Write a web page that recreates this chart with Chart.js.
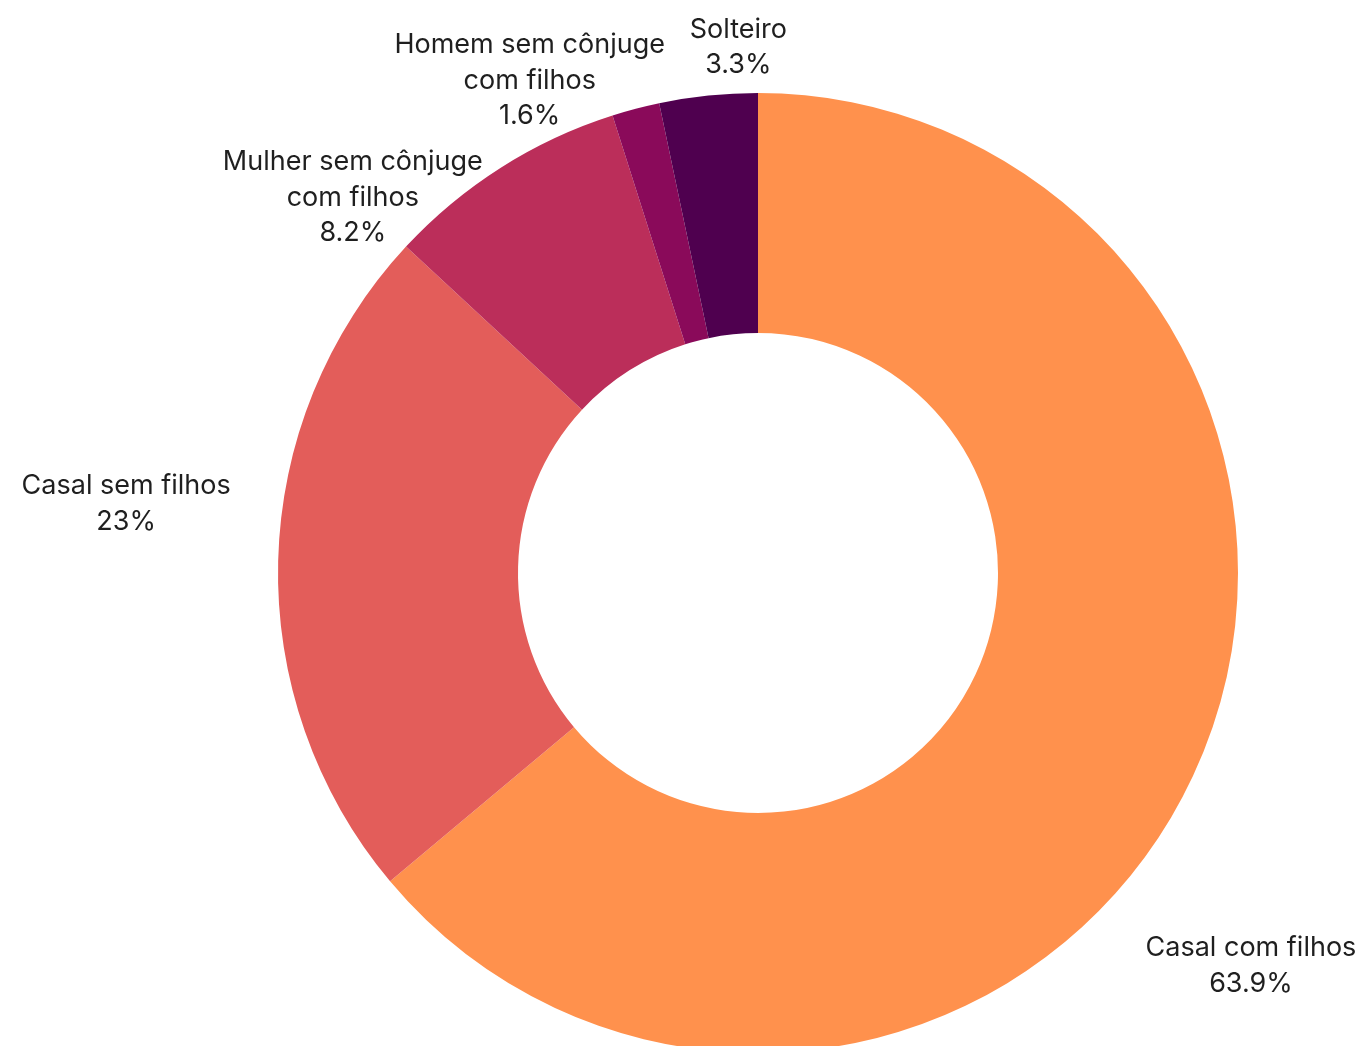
<!DOCTYPE html>
<html>
<head>
<meta charset="utf-8">
<script src="https://cdn.jsdelivr.net/npm/chart.js@4.4.1/dist/chart.umd.min.js"></script>
<style>
  html, body { margin: 0; padding: 0; background: #fff; overflow: hidden; }
  #wrap { width: 1364px; height: 1060px; }
</style>
</head>
<body>
<div id="wrap"><canvas id="myChart" width="1364" height="1060"></canvas></div>
<script>
const categories = ['Casal com filhos', 'Casal sem filhos', 'Mulher sem cônjuge com filhos', 'Homem sem cônjuge com filhos', 'Solteiro'];
const labelLines = [['Casal com filhos'], ['Casal sem filhos'], ['Mulher sem cônjuge', 'com filhos'], ['Homem sem cônjuge', 'com filhos'], ['Solteiro']];
const values = [63.9, 23, 8.2, 1.6, 3.3];
const colors = ['#FF914D', '#E35D5A', '#BB2E5A', '#8A0A5A', '#4F004F'];

// nudge of each label block from the arc's outer mid point
const labelNudge = [[58, 190], [-152, -57], [-148, 30], [-106, -28], [30, -48]];

const outsideLabels = {
  id: 'outsideLabels',
  afterDraw(chart) {
    const ctx = chart.ctx;
    const meta = chart.getDatasetMeta(0);
    ctx.save();
    ctx.font = '27px Inter';
    ctx.fillStyle = '#1f1f1f';
    ctx.textAlign = 'center';
    ctx.textBaseline = 'middle';
    meta.data.forEach(function(arc, i) {
      const p = arc.getProps(['x', 'y', 'startAngle', 'endAngle', 'outerRadius'], true);
      const mid = (p.startAngle + p.endAngle) / 2;
      const x = p.x + Math.cos(mid) * p.outerRadius + labelNudge[i][0];
      const y = p.y + Math.sin(mid) * p.outerRadius + labelNudge[i][1];
      const lines = labelLines[i].concat([values[i] + '%']);
      const lh = 35.5;
      const top = y - (lines.length - 1) * lh / 2;
      lines.forEach(function(t, k) {
        ctx.fillText(t, x, top + k * lh);
      });
    });
    ctx.restore();
  }
};

const ctx = document.getElementById('myChart');
new Chart(ctx, {
  type: 'doughnut',
  data: {
    labels: categories,
    datasets: [{
      data: values,
      backgroundColor: colors,
      borderWidth: 0,
      hoverOffset: 0
    }]
  },
  options: {
    responsive: false,
    animation: false,
    cutout: '50%',
    layout: { padding: { left: 278, right: 126, top: 93, bottom: 7 } },
    plugins: {
      legend: { display: false },
      tooltip: { enabled: false }
    }
  },
  plugins: [outsideLabels]
});
</script>
</body>
</html>
